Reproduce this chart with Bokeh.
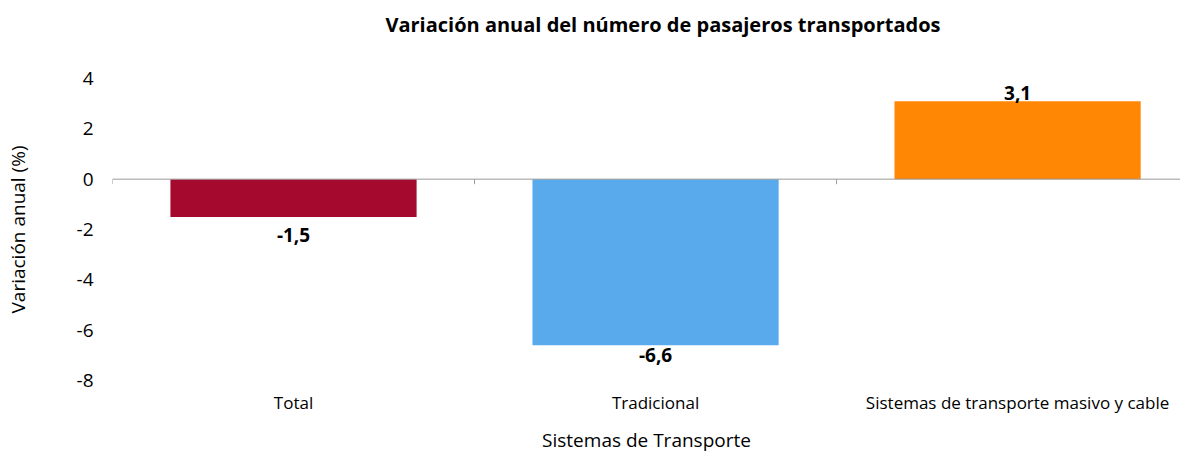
from bokeh.plotting import figure
from bokeh.layouts import column
from bokeh.models import ColumnDataSource, Range1d, FixedTicker, Span, Div
from bokeh.core.properties import value
from bokeh.embed import file_html
from bokeh.resources import INLINE

categories = ["Total", "Tradicional", "Sistemas de transporte masivo y cable"]
variacion = [-1.5, -6.6, 3.1]
colors = ["#A50A2E", "#58AAEC", "#FF8704"]
y_ticks = [4, 2, 0, -2, -4, -6, -8]
title = "Variación anual del número de pasajeros transportados"

FONT = "Open Sans"
Y_MIN, Y_MAX = -8, 4
n = len(categories)
xs = [i + 0.5 for i in range(n)]
labels = [f"{v:.1f}".replace(".", ",") for v in variacion]

W, H, TH = 1180, 455, 50
header = Div(text=title, width=W, height=TH, margin=0,
             styles={"text-align": "center", "font-family": FONT, "font-weight": "bold",
                     "font-size": "20px", "line-height": f"{TH}px", "color": "#000000",
                     "padding-left": "146px", "box-sizing": "border-box",
                     "width": f"{W}px", "white-space": "nowrap"})

p = figure(width=W, height=H - TH, output_backend="svg", toolbar_location=None,
           x_range=Range1d(0, 2.95), y_range=Range1d(Y_MIN, Y_MAX),
           min_border_left=112, min_border_right=0, min_border_top=78 - TH, min_border_bottom=60)
p.margin = 0
p.title = None
p.outline_line_color = None
p.grid.visible = False
p.background_fill_color = "white"

src = ColumnDataSource(dict(x=xs, top=variacion, color=colors, label=labels))
p.vbar(x="x", top="top", bottom=0, width=0.68, fill_color="color", line_color=None, source=src)

p.add_layout(Span(location=0, dimension="width", line_color="#9a9a9a", line_width=1))
bx = list(range(n + 1))
p.segment(x0=bx, x1=bx, y0=[0] * len(bx), y1=[-0.2] * len(bx), line_color="#9a9a9a", line_width=1)

# negative labels: outside end, pulled in when close to the axis minimum
neg_out = [i for i, v in enumerate(variacion) if v < 0 and v - 1.5 >= Y_MIN]
neg_in = [i for i, v in enumerate(variacion) if v < 0 and v - 1.5 < Y_MIN]
pos = [i for i, v in enumerate(variacion) if v >= 0]
common = dict(text_align="center", text_font=value(FONT), text_font_size="19px",
              text_font_style="bold", text_color="#000000")
p.text(x=[xs[i] for i in neg_out], y=[variacion[i] for i in neg_out],
       text=[labels[i] for i in neg_out], text_baseline="top", y_offset=11, **common)
p.text(x=[xs[i] for i in neg_in], y=[variacion[i] for i in neg_in],
       text=[labels[i] for i in neg_in], text_baseline="top", y_offset=3, **common)
p.text(x=[xs[i] for i in pos], y=[variacion[i] for i in pos],
       text=[labels[i] for i in pos], text_baseline="bottom", y_offset=-1, **common)

for ax in (p.xaxis, p.yaxis):
    ax.axis_line_color = None
    ax.major_tick_line_color = None
    ax.minor_tick_line_color = None
    ax.major_tick_out = 0
    ax.major_tick_in = 0
    ax.minor_tick_out = 0
    ax.minor_tick_in = 0
    ax.major_label_text_font = FONT
    ax.major_label_text_color = "#000000"
    ax.axis_label_text_font = FONT
    ax.axis_label_text_font_size = "19px"
    ax.axis_label_text_font_style = "normal"
    ax.axis_label_text_color = "#000000"

p.xaxis.ticker = FixedTicker(ticks=xs)
p.xaxis.major_label_overrides = {x: c for x, c in zip(xs, categories)}
p.xaxis.major_label_standoff = 10
p.xaxis.major_label_text_font_size = "17px"
p.xaxis.axis_label = "Sistemas de Transporte"
p.xaxis.axis_label_standoff = 10

p.yaxis.ticker = FixedTicker(ticks=y_ticks)
p.yaxis.major_label_overrides = {t: str(t) for t in y_ticks}
p.yaxis.major_label_standoff = 19
p.yaxis.major_label_text_font_size = "19px"
p.yaxis.axis_label = "Variación anual (%)"
p.yaxis.axis_label_standoff = 43

layout = column(header, p, spacing=0, margin=0)
open("out.html", "w").write(file_html(layout, INLINE))
